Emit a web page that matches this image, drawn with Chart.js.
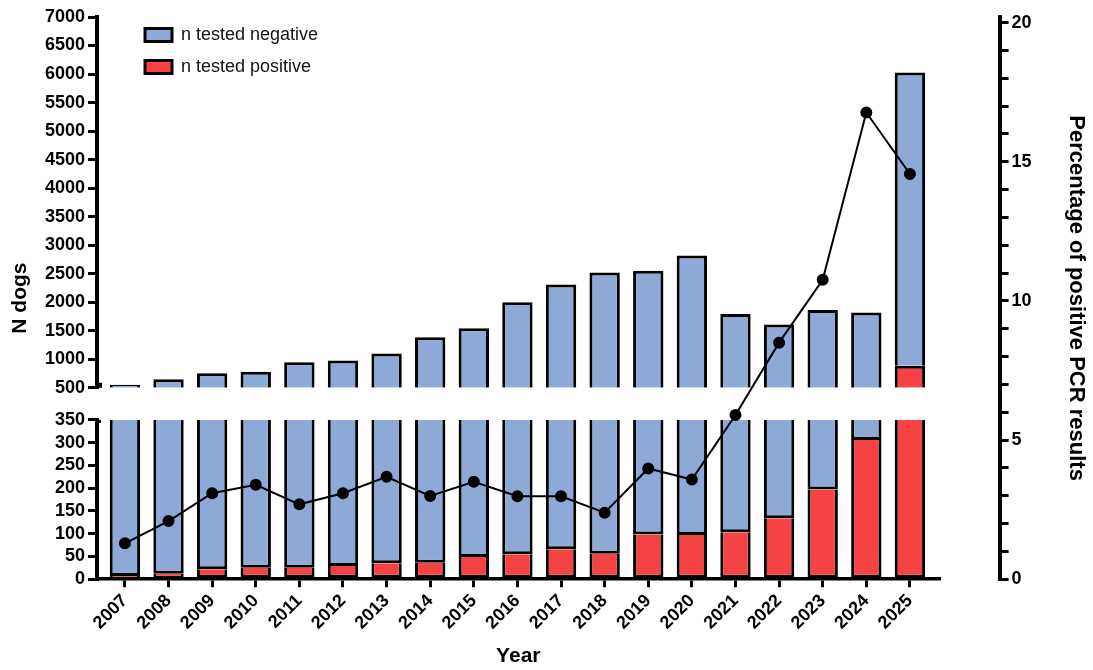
<!DOCTYPE html>
<html>
<head>
<meta charset="utf-8">
<title>PCR results in dogs</title>
<script src="https://cdn.jsdelivr.net/npm/chart.js@4.4.1/dist/chart.umd.min.js"></script>
<style>
    html, body { margin: 0; padding: 0; background: #ffffff; }
    #wrap { width: 1093px; height: 670px; }
</style>
</head>
<body>
<div id="wrap"><canvas id="myChart"></canvas></div>
<script>
// Values
const years = [2007, 2008, 2009, 2010, 2011, 2012, 2013, 2014, 2015, 2016,
               2017, 2018, 2019, 2020, 2021, 2022, 2023, 2024, 2025];
const nPositive = [7, 12, 22, 25, 25, 29, 35, 36, 49, 55,
                   66, 56, 98, 97, 103, 134, 197, 306, 885];
const nNegative = [546, 636, 731, 757, 925, 949, 1068, 1348, 1493, 1944,
                   2244, 2464, 2452, 2722, 1689, 1475, 1666, 1514, 5143];
const pctPositive = [1.29, 2.09, 3.09, 3.39, 2.69, 3.09, 3.68, 2.99, 3.5, 2.98,
                     2.98, 2.39, 3.98, 3.58, 5.9, 8.5, 10.76, 16.77, 14.56];

// Broken left axis: lower part 0-350, upper part 500-7000
const lowerMax = 350;
const upperMin = 500;
const upperMax = 7000;

const BLUE = '#8DA9D5';
const RED = '#F54242';
const LEFT_W = 52;

Chart.defaults.font.family = "'Liberation Sans', Arial, sans-serif";
Chart.defaults.color = '#000000';

const totals = nNegative.map((v, i) => v + nPositive[i]);

// Split every stacked bar into the piece shown in each half of the axis
const lowPos = years.map((y, i) => ({ x: y, y: [0, Math.min(nPositive[i], lowerMax)] }));
const lowNeg = years.map((y, i) => ({ x: y, y: [Math.min(nPositive[i], lowerMax), Math.min(totals[i], lowerMax)] }))
    .filter(d => d.y[1] > d.y[0]);
const highPos = years.map((y, i) => ({ x: y, y: [upperMin, nPositive[i]] }))
    .filter(d => d.y[1] > d.y[0]);
const highNeg = years.map((y, i) => ({ x: y, y: [Math.max(nPositive[i], upperMin), totals[i]] }))
    .filter(d => d.y[1] > d.y[0]);
const pctPoints = years.map((y, i) => ({ x: y, y: pctPositive[i] }));

function barSet(label, data, color, axis, skipped) {
    return {
        type: 'bar',
        label: label,
        data: data,
        xAxisID: 'x',
        yAxisID: axis,
        backgroundColor: color,
        borderColor: '#000000',
        borderWidth: 3,
        borderSkipped: skipped,
        grouped: false,
        categoryPercentage: 0.8,
        barPercentage: 0.87,
        order: 1
    };
}

const leftGrid = { drawOnChartArea: false, color: '#000000', lineWidth: 3, tickLength: 9 };
const leftTicks = (step) => ({
    stepSize: step,
    autoSkip: false,
    padding: 3,
    font: { size: 18, weight: 'bold' },
    callback: (v) => String(Math.round(v))
});

// Moves the legend and the right axis where the figure has them,
// writes the left title and marks the axis break
const layoutTweaks = {
    id: 'layoutTweaks',
    afterLayout(chart) {
        const lg = chart.legend;
        const h = lg.bottom - lg.top;
        lg.left += 34; lg.right += 34;
        lg.top = chart.chartArea.top - 5;
        lg.bottom = lg.top + h;
        const r = chart.scales.yPct;
        r.left += 60; r.right += 60;
    },
    afterDraw(chart) {
        const { ctx, chartArea, scales } = chart;
        const ax = chartArea.left;
        ctx.save();
        ctx.fillStyle = '#000000';
        // break marks on the left axis
        ctx.fillRect(ax - 2, scales.yHigh.bottom - 5, 7, 5);
        ctx.fillRect(ax - 2, scales.yLow.top, 6, 3);

        ctx.translate(20, (chartArea.top + chartArea.bottom) / 2);
        ctx.rotate(-Math.PI / 2);
        ctx.font = "bold 21px 'Liberation Sans', Arial, sans-serif";
        ctx.textAlign = 'center';
        ctx.textBaseline = 'middle';
        ctx.fillText('N dogs', 0, 0);
        ctx.restore();
    }
};

const ctx = document.getElementById('myChart').getContext('2d');
const myChart = new Chart(ctx, {
    data: {
        datasets: [
            barSet('n tested negative', lowNeg, BLUE, 'yLow', 'top'),
            barSet('n tested positive', lowPos, RED, 'yLow', 'top'),
            barSet('n tested negative', highNeg, BLUE, 'yHigh', 'bottom'),
            barSet('n tested positive', highPos, RED, 'yHigh', 'bottom'),
            {
                type: 'line',
                label: 'Percentage positive',
                data: pctPoints,
                xAxisID: 'x',
                yAxisID: 'yPct',
                borderColor: '#000000',
                borderWidth: 2,
                pointRadius: 5,
                pointBackgroundColor: '#000000',
                pointBorderColor: '#000000',
                tension: 0,
                order: 0
            }
        ]
    },
    plugins: [layoutTweaks],
    options: {
        responsive: true,
        maintainAspectRatio: false,
        animation: false,
        layout: { padding: { left: 45, right: 62, top: 17, bottom: 0 } },
        plugins: {
            tooltip: { enabled: false },
            legend: {
                position: 'chartArea',
                align: 'start',
                labels: {
                    filter: (item) => item.datasetIndex < 2,
                    boxWidth: 27,
                    boxHeight: 13,
                    padding: 14,
                    color: '#111111',
                    font: { size: 18 }
                }
            }
        },
        scales: {
            x: {
                type: 'linear',
                position: 'bottom',
                offset: false,
                min: 2006.36,
                max: 2025.68,
                afterBuildTicks: (scale) => { scale.ticks = years.map(v => ({ value: v })); },
                ticks: {
                    autoSkip: false,
                    minRotation: 45,
                    maxRotation: 45,
                    padding: 3,
                    font: { size: 18, weight: 'bold' },
                    callback: (v) => String(v)
                },
                grid: { offset: false, drawOnChartArea: false, color: '#000000', lineWidth: 3, tickLength: 8 },
                border: { color: '#000000', width: 3.5 },
                title: {
                    display: true,
                    text: 'Year',
                    font: { size: 21, weight: 'bold' },
                    padding: { top: 7, bottom: 1 }
                }
            },
            yLow: {
                type: 'linear',
                position: 'left',
                stack: 'left',
                stackWeight: 159,
                min: 0,
                max: lowerMax,
                ticks: leftTicks(50),
                grid: leftGrid,
                border: { color: '#000000', width: 4 },
                afterFit: (s) => { s.width = LEFT_W; }
            },
            yGap: {
                type: 'linear',
                position: 'left',
                stack: 'left',
                stackWeight: 32,
                ticks: { display: false },
                grid: { display: false },
                border: { display: false },
                afterFit: (s) => { s.width = LEFT_W; }
            },
            yHigh: {
                type: 'linear',
                position: 'left',
                stack: 'left',
                stackWeight: 370,
                min: upperMin,
                max: upperMax,
                ticks: leftTicks(500),
                grid: leftGrid,
                border: { color: '#000000', width: 4 },
                afterFit: (s) => { s.width = LEFT_W; }
            },
            yPct: {
                type: 'linear',
                position: 'right',
                min: 0,
                max: 20.2,
                ticks: {
                    stepSize: 1,
                    includeBounds: false,
                    autoSkip: false,
                    padding: 3,
                    font: { size: 18, weight: 'bold' },
                    callback: (v) => (Math.round(v) % 5 === 0 ? String(Math.round(v)) : '')
                },
                grid: { drawOnChartArea: false, color: '#000000', lineWidth: 3, tickLength: 9 },
                border: { color: '#000000', width: 4 },
                title: {
                    display: true,
                    text: 'Percentage of positive PCR results',
                    font: { size: 22, weight: 'bold' },
                    padding: { top: 2, bottom: 28 }
                }
            }
        }
    }
});
</script>
</body>
</html>
